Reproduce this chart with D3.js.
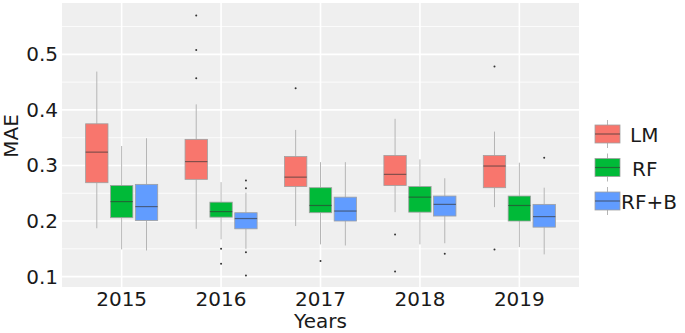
<!DOCTYPE html>
<html>
<head>
<meta charset="utf-8">
<script src="https://cdn.jsdelivr.net/npm/d3@7"></script>
<style>
  body { margin: 0; background: #fff; }
  text { font-family: "DejaVu Sans", sans-serif; }
</style>
</head>
<body>
<div id="chart"></div>
<script>
// categories
const years = ["2015", "2016", "2017", "2018", "2019"];
const methods = ["LM", "RF", "RF+B"];
const colors = ["#F8766D", "#00BA38", "#619CFF"];

// box stats per method: lower whisker, q1, median, q3, upper whisker, outliers
const lmLow = [0.187, 0.186, 0.191, 0.216, 0.225];
const lmQ1 = [0.269, 0.275, 0.262, 0.264, 0.260];
const lmMed = [0.324, 0.307, 0.279, 0.284, 0.299];
const lmQ3 = [0.375, 0.347, 0.316, 0.318, 0.318];
const lmHigh = [0.469, 0.410, 0.364, 0.384, 0.361];
const lmOut = [[], [0.570, 0.508, 0.457], [0.439], [0.176, 0.109], [0.478, 0.149]];

const rfLow = [0.149, 0.167, 0.158, 0.158, 0.153];
const rfQ1 = [0.206, 0.207, 0.215, 0.216, 0.200];
const rfMed = [0.235, 0.217, 0.228, 0.243, 0.228];
const rfQ3 = [0.264, 0.234, 0.260, 0.262, 0.245];
const rfHigh = [0.335, 0.270, 0.306, 0.311, 0.305];
const rfOut = [[], [0.150, 0.123], [0.128], [], []];

const rfbLow = [0.147, 0.150, 0.156, 0.160, 0.140];
const rfbQ1 = [0.201, 0.186, 0.200, 0.209, 0.189];
const rfbMed = [0.226, 0.2045, 0.218, 0.230, 0.208];
const rfbQ3 = [0.266, 0.215, 0.243, 0.245, 0.230];
const rfbHigh = [0.349, 0.251, 0.306, 0.277, 0.260];
const rfbOut = [[], [0.273, 0.259, 0.144, 0.102], [], [0.141], [0.314]];

// tick labels
const yMajor = [0.1, 0.2, 0.3, 0.4, 0.5];
const yMinor = [0.15, 0.25, 0.35, 0.45, 0.55];

const stats = [
    [lmLow, lmQ1, lmMed, lmQ3, lmHigh, lmOut],
    [rfLow, rfQ1, rfMed, rfQ3, rfHigh, rfOut],
    [rfbLow, rfbQ1, rfbMed, rfbQ3, rfbHigh, rfbOut]
];

const boxes = [];
methods.forEach((m, mi) => {
    years.forEach((yr, yi) => {
        const s = stats[mi];
        boxes.push({
            year: yr, method: m,
            low: s[0][yi], q1: s[1][yi], med: s[2][yi], q3: s[3][yi], high: s[4][yi],
            out: s[5][yi]
        });
    });
});

const width = 685, height = 333;
const panel = { left: 62, right: 579, top: 3, bottom: 287 };

const svg = d3.select("#chart")
    .append("svg")
    .attr("width", width)
    .attr("height", height);

const x = d3.scaleBand()
    .domain(years)
    .range([panel.left, panel.right])
    .paddingInner(0)
    .paddingOuter(0.1);

const step = x.step();
const xInner = d3.scaleBand()
    .domain(methods)
    .range([-0.375 * step, 0.375 * step])
    .paddingInner(0.1)
    .paddingOuter(0.05);

const y = d3.scaleLinear()
    .domain([0.0813, 0.5924])
    .range([panel.bottom, panel.top]);

const color = d3.scaleOrdinal().domain(methods).range(colors);

// panel
svg.append("rect")
    .attr("x", panel.left).attr("y", panel.top)
    .attr("width", panel.right - panel.left).attr("height", panel.bottom - panel.top)
    .attr("fill", "#efefef");

// grid
svg.append("g").selectAll("line")
    .data(yMinor)
    .join("line")
    .attr("x1", panel.left).attr("x2", panel.right)
    .attr("y1", d => y(d)).attr("y2", d => y(d))
    .attr("stroke", "#fff").attr("stroke-width", 0.8);

svg.append("g").selectAll("line")
    .data(yMajor)
    .join("line")
    .attr("x1", panel.left).attr("x2", panel.right)
    .attr("y1", d => y(d)).attr("y2", d => y(d))
    .attr("stroke", "#fff").attr("stroke-width", 1.6);

svg.append("g").selectAll("line")
    .data(years)
    .join("line")
    .attr("x1", d => x(d) + x.bandwidth() / 2).attr("x2", d => x(d) + x.bandwidth() / 2)
    .attr("y1", panel.top).attr("y2", panel.bottom)
    .attr("stroke", "#fff").attr("stroke-width", 1.6);

// boxes
const cx = d => x(d.year) + x.bandwidth() / 2 + xInner(d.method) + xInner.bandwidth() / 2;
const bw = xInner.bandwidth();

const g = svg.append("g").selectAll("g")
    .data(boxes)
    .join("g");

g.append("line")
    .attr("x1", cx).attr("x2", cx)
    .attr("y1", d => y(d.high)).attr("y2", d => y(d.q3))
    .attr("stroke", "#b5b5b5").attr("stroke-width", 1);

g.append("line")
    .attr("x1", cx).attr("x2", cx)
    .attr("y1", d => y(d.q1)).attr("y2", d => y(d.low))
    .attr("stroke", "#b5b5b5").attr("stroke-width", 1);

g.append("rect")
    .attr("x", d => cx(d) - bw / 2)
    .attr("y", d => y(d.q3))
    .attr("width", bw)
    .attr("height", d => y(d.q1) - y(d.q3))
    .attr("fill", d => color(d.method))
    .attr("stroke", "#a0a0a0")
    .attr("stroke-width", 0.8);

g.append("line")
    .attr("x1", d => cx(d) - bw / 2).attr("x2", d => cx(d) + bw / 2)
    .attr("y1", d => y(d.med)).attr("y2", d => y(d.med))
    .attr("stroke", "#333").attr("stroke-opacity", 0.6).attr("stroke-width", 1.2);

g.selectAll("circle")
    .data(d => d.out.map(v => ({ v: v, d: d })))
    .join("circle")
    .attr("cx", o => cx(o.d))
    .attr("cy", o => y(o.v))
    .attr("r", 1)
    .attr("fill", "#333");

// axes
const yAxis = svg.append("g")
    .attr("transform", `translate(${panel.left},0)`)
    .call(d3.axisLeft(y).tickValues(yMajor).tickFormat(d3.format(".1f")).tickSize(0).tickPadding(4));
yAxis.select(".domain").remove();
yAxis.selectAll("text")
    .style("font-size", "20px")
    .attr("fill", "#1a1a1a");

const xAxis = svg.append("g")
    .attr("transform", `translate(0,${panel.bottom})`)
    .call(d3.axisBottom(x).tickSize(0).tickPadding(5));
xAxis.select(".domain").remove();
xAxis.selectAll("text")
    .style("font-size", "20px")
    .attr("fill", "#1a1a1a");

svg.append("text")
    .attr("x", (panel.left + panel.right) / 2)
    .attr("y", 328)
    .attr("text-anchor", "middle")
    .style("font-size", "20px")
    .attr("fill", "#1a1a1a")
    .text("Years");

svg.append("text")
    .attr("transform", "translate(17.5,136) rotate(-90)")
    .attr("text-anchor", "middle")
    .style("font-size", "20px")
    .attr("fill", "#1a1a1a")
    .text("MAE");

// legend
const keyW = 25, keyH = 18, keySpacing = 33.5;
const labelX = [630, 632, 621];
const legend = svg.append("g")
    .attr("transform", "translate(595,125)");

methods.forEach((m, i) => {
    const yOff = i * keySpacing;
    legend.append("line")
        .attr("x1", keyW / 2).attr("x2", keyW / 2)
        .attr("y1", yOff - 5).attr("y2", yOff + keyH + 5)
        .attr("stroke", "#b5b5b5");
    legend.append("rect")
        .attr("x", 0).attr("y", yOff)
        .attr("width", keyW).attr("height", keyH)
        .attr("fill", color(m))
        .attr("stroke", "#a0a0a0")
        .attr("stroke-width", 0.8);
    legend.append("line")
        .attr("x1", 0).attr("x2", keyW)
        .attr("y1", yOff + keyH / 2).attr("y2", yOff + keyH / 2)
        .attr("stroke", "#333").attr("stroke-opacity", 0.6).attr("stroke-width", 1.2);
    legend.append("text")
        .attr("x", labelX[i] - 595)
        .attr("y", yOff + keyH / 2 + 1)
        .attr("dominant-baseline", "central")
        .style("font-size", "20px")
        .attr("fill", "#1a1a1a")
        .text(m);
});
</script>
</body>
</html>
